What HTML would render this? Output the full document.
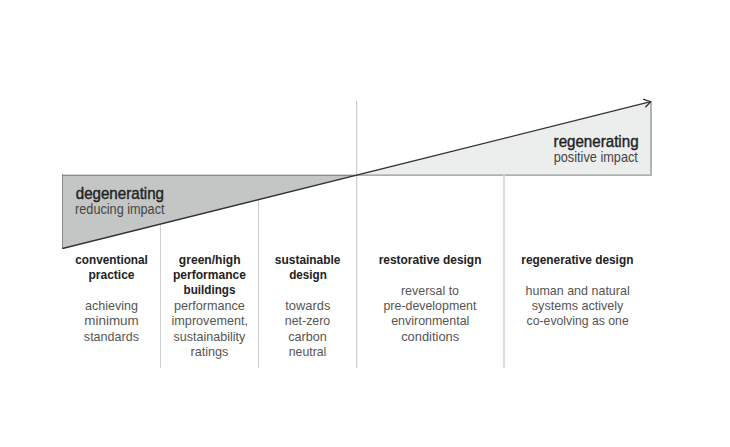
<!DOCTYPE html>
<html>
<head>
<meta charset="utf-8">
<style>
html,body{margin:0;padding:0;background:#fff;}
body{width:730px;height:447px;position:relative;overflow:hidden;font-family:"Liberation Sans",sans-serif;}
svg{position:absolute;left:0;top:0;}
text{font-family:"Liberation Sans",sans-serif;}
</style>
</head>
<body>
<svg width="730" height="447" viewBox="0 0 730 447">
  <polygon points="357,175 651,101.5 651,176 357,176" fill="#eceeed"/>
  <rect x="357" y="174" width="295" height="1" fill="#c2c4c4"/>
  <rect x="357" y="175" width="295" height="1" fill="#adafaf"/>
  <rect x="650" y="101.5" width="2" height="74.5" fill="#b2b4b4"/>
  <polygon points="62,175 357,175 62,248.5" fill="#c4c6c5"/>
  <rect x="62" y="174" width="295" height="1" fill="#d4d5d5"/>
  <rect x="62" y="175" width="295" height="1" fill="#8c8e8d"/>
  <rect x="62" y="174" width="1" height="75" fill="#8a8c8b"/>
  <line x1="160.5" y1="224" x2="160.5" y2="368" stroke="#cfcfcf" stroke-width="1"/>
  <line x1="258.5" y1="200" x2="258.5" y2="368" stroke="#cfcfcf" stroke-width="1"/>
  <line x1="356.6" y1="101" x2="356.6" y2="368" stroke="#cdcdcd" stroke-width="1.2"/>
  <line x1="504" y1="175" x2="504" y2="368" stroke="#d6d6d6" stroke-width="1.6"/>
  <line x1="62.5" y1="248.5" x2="650.7" y2="101.7" stroke="#303434" stroke-width="1.3"/>
  <polyline points="643.1,99.2 650.7,101.7 645.3,107.3" fill="none" stroke="#303434" stroke-width="1.3" stroke-linejoin="miter"/>
</svg>
<svg width="730" height="447" style="position:absolute;left:0;top:0" font-family="Liberation Sans, sans-serif">
<text transform="translate(75.25 264.00) scale(0.9067 1)" font-size="13" font-weight="700" fill="#222">conventional</text>
<text transform="translate(88.40 279.00) scale(0.9272 1)" font-size="13" font-weight="700" fill="#222">practice</text>
<text transform="translate(84.97 310.20) scale(0.9664 1)" font-size="13" font-weight="400" fill="#555">achieving</text>
<text transform="translate(84.27 325.30) scale(1.0353 1)" font-size="13" font-weight="400" fill="#555">minimum</text>
<text transform="translate(83.87 340.50) scale(0.9643 1)" font-size="13" font-weight="400" fill="#555">standards</text>
<text transform="translate(178.83 264.00) scale(0.9303 1)" font-size="13" font-weight="700" fill="#222">green/high</text>
<text transform="translate(172.90 279.00) scale(0.9290 1)" font-size="13" font-weight="700" fill="#222">performance</text>
<text transform="translate(183.53 294.00) scale(0.8991 1)" font-size="13" font-weight="700" fill="#222">buildings</text>
<text transform="translate(173.92 310.20) scale(0.9728 1)" font-size="13" font-weight="400" fill="#555">performance</text>
<text transform="translate(171.52 325.30) scale(0.9733 1)" font-size="13" font-weight="400" fill="#555">improvement,</text>
<text transform="translate(173.47 340.50) scale(0.9654 1)" font-size="13" font-weight="400" fill="#555">sustainability</text>
<text transform="translate(190.42 355.60) scale(0.9748 1)" font-size="13" font-weight="400" fill="#555">ratings</text>
<text transform="translate(274.84 264.00) scale(0.9191 1)" font-size="13" font-weight="700" fill="#222">sustainable</text>
<text transform="translate(289.15 279.00) scale(0.9012 1)" font-size="13" font-weight="700" fill="#222">design</text>
<text transform="translate(285.30 310.20) scale(0.9899 1)" font-size="13" font-weight="400" fill="#555">towards</text>
<text transform="translate(284.84 325.30) scale(0.9527 1)" font-size="13" font-weight="400" fill="#555">net-zero</text>
<text transform="translate(288.26 340.50) scale(0.9714 1)" font-size="13" font-weight="400" fill="#555">carbon</text>
<text transform="translate(288.74 355.60) scale(0.9464 1)" font-size="13" font-weight="400" fill="#555">neutral</text>
<text transform="translate(378.71 264.00) scale(0.9176 1)" font-size="13" font-weight="700" fill="#222">restorative design</text>
<text transform="translate(400.93 294.50) scale(0.9580 1)" font-size="13" font-weight="400" fill="#555">reversal to</text>
<text transform="translate(383.48 310.20) scale(0.9540 1)" font-size="13" font-weight="400" fill="#555">pre-development</text>
<text transform="translate(391.17 325.30) scale(0.9583 1)" font-size="13" font-weight="400" fill="#555">environmental</text>
<text transform="translate(401.15 340.50) scale(0.9913 1)" font-size="13" font-weight="400" fill="#555">conditions</text>
<text transform="translate(521.32 264.00) scale(0.9130 1)" font-size="13" font-weight="700" fill="#222">regenerative design</text>
<text transform="translate(525.49 294.50) scale(0.9615 1)" font-size="13" font-weight="400" fill="#555">human and natural</text>
<text transform="translate(531.82 310.20) scale(0.9676 1)" font-size="13" font-weight="400" fill="#555">systems actively</text>
<text transform="translate(526.58 325.30) scale(0.9436 1)" font-size="13" font-weight="400" fill="#555">co-evolving as one</text>
<text transform="translate(75.73 198.50) scale(0.9457 1)" font-size="16" font-weight="400" fill="#222" stroke="#222" stroke-width="0.4" stroke-linejoin="round">degenerating</text>
<text transform="translate(75.09 213.60) scale(0.9054 1)" font-size="14" font-weight="400" fill="#444">reducing impact</text>
<text transform="translate(553.59 146.90) scale(0.9467 1)" font-size="16" font-weight="400" fill="#222" stroke="#222" stroke-width="0.4" stroke-linejoin="round">regenerating</text>
<text transform="translate(553.69 162.00) scale(0.9098 1)" font-size="14" font-weight="400" fill="#444">positive impact</text>
</svg>
</body>
</html>
